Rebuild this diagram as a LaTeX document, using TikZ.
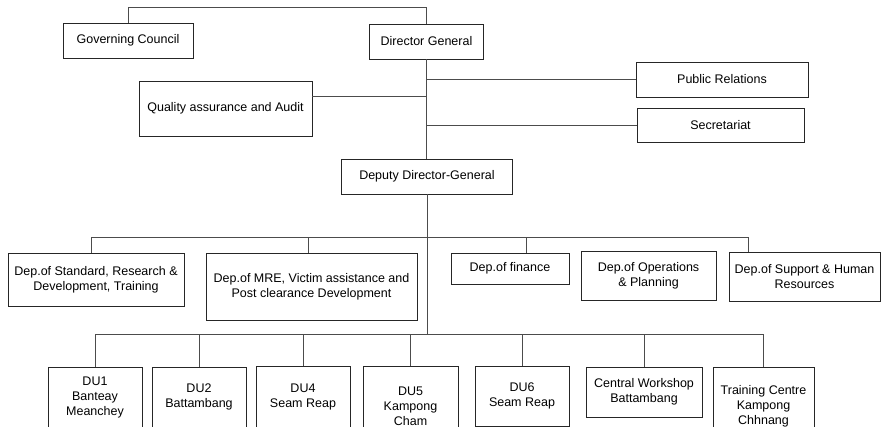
\documentclass[tikz,border=0pt]{standalone}
\usepackage{fontspec}
\setmainfont{Liberation Sans}
\begin{document}
\begin{tikzpicture}[x=1pt,y=-1pt,
  box/.style={draw=black!85, line width=0.9pt, fill=white, align=center,
    inner sep=0pt, font=\fontsize{12.5}{15}\selectfont},
  link/.style={draw=black!70, line width=0.9pt}]
\path[use as bounding box, clip] (0,0) rectangle (884,427);

% top management
\node[box, minimum width=130pt, minimum height=35pt] (gc)  at (128,40.5)   {Governing Council};
\node[box, minimum width=114pt, minimum height=35pt] (dg)  at (426.5,41.5) {Director General};
\node[box, minimum width=173pt, minimum height=55pt] (qa)  at (225.5,108.5) {Quality assurance and Audit};
\node[box, minimum width=172pt, minimum height=35pt] (pr)  at (722,79.5)   {Public Relations};
\node[box, minimum width=167pt, minimum height=34pt] (sec) at (720.5,125)  {Secretariat};
\node[box, minimum width=171pt, minimum height=35pt] (ddg) at (427,176.5)  {Deputy Director-General};

% departments
\node[box, minimum width=176pt, minimum height=53pt] (d1) at (96,279.5)    {Dep.of Standard, Research \&\\Development, Training};
\node[box, minimum width=211pt, minimum height=67pt] (d2) at (311.5,286.5) {Dep.of MRE, Victim assistance and\\Post clearance Development};
\node[box, minimum width=118pt, minimum height=31pt] (d3) at (510,268.5)   {Dep.of finance};
\node[box, minimum width=135pt, minimum height=49pt] (d4) at (648.5,275.5) {Dep.of Operations\\\& Planning};
\node[box, minimum width=151pt, minimum height=49pt] (d5) at (804.5,276.5) {Dep.of Support \& Human\\Resources};

% demining units and centres
\node[box, minimum width=94pt,  minimum height=60pt] (du1) at (95,397)    {DU1\\Banteay\\Meanchey};
\node[box, minimum width=94pt,  minimum height=60pt] (du2) at (199,397)   {DU2\\Battambang};
\node[box, minimum width=94pt,  minimum height=61pt] (du4) at (303,396.5) {DU4\\Seam Reap};
\node[box, minimum width=95pt,  minimum height=80pt] (du5) at (410.5,406) {DU5\\Kampong\\Cham};
\node[box, minimum width=94pt,  minimum height=60pt] (du6) at (522,396)   {DU6\\Seam Reap};
\node[box, minimum width=116pt, minimum height=50pt] (cw)  at (644,392)   {Central Workshop\\Battambang};
\node[box, minimum width=101pt, minimum height=79pt] (tc)  at (763.5,406.5) {Training Centre\\Kampong\\Chhnang};

% connectors
\coordinate (topbar)   at (0,7);
\coordinate (deptbus)  at (427,237);
\coordinate (unitbus)  at (427,334);

\draw[link] (gc.north) |- (topbar -| dg.north) -- (dg.north);
\draw[link] (dg.south) -- (dg.south |- ddg.north);
\draw[link] (pr.west) -- (pr.west -| dg.south);
\draw[link] ([yshift=-16pt]qa.north east) -- ([yshift=-16pt]qa.north east -| dg.south);
\draw[link] (sec.west) -- (sec.west -| dg.south);
\draw[link] (ddg.south) -- (ddg.south |- unitbus);

\draw[link] ([xshift=-5pt]d1.north)   |- (deptbus);
\draw[link] ([xshift=-3.5pt]d2.north) |- (deptbus);
\draw[link] ([xshift=16pt]d3.north)   |- (deptbus);
\draw[link] ([xshift=-56.5pt]d5.north) |- (deptbus);

\foreach \u in {du1,du2,du4,du5,du6,cw,tc}
  \draw[link] (\u.north) |- (unitbus);
\end{tikzpicture}
\end{document}
